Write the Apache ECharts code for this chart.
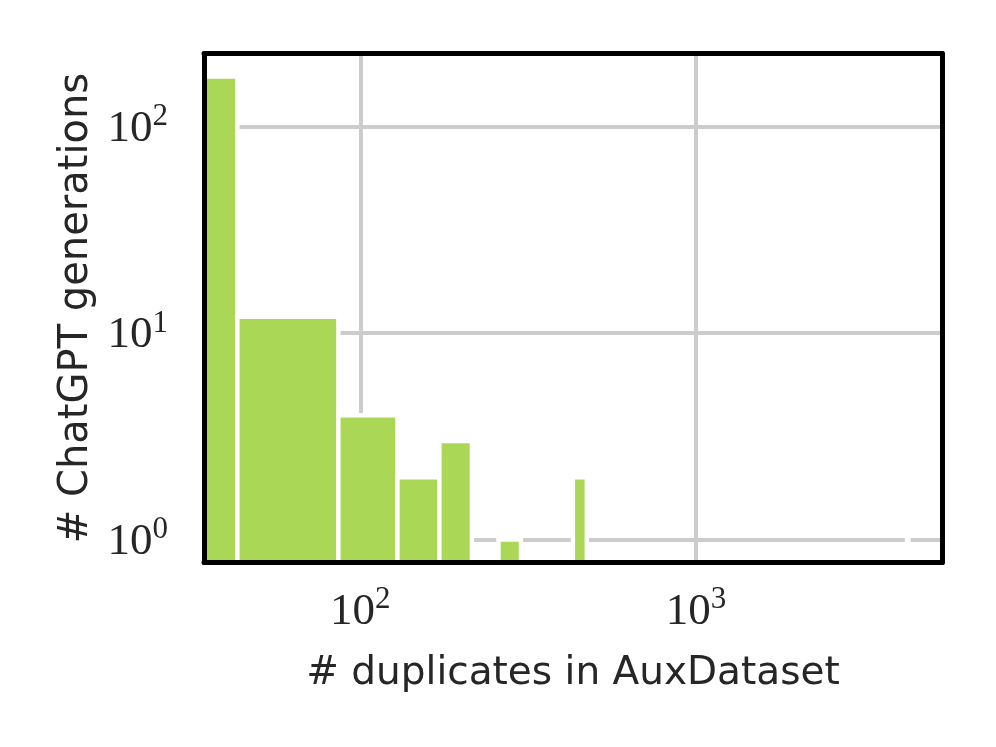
<!DOCTYPE html>
<html>
<head>
<meta charset="utf-8">
<script src="https://cdn.jsdelivr.net/npm/echarts@6/dist/echarts.min.js"></script>
<style>
  html, body { margin: 0; padding: 0; background: #fff; }
  #chart { width: 996px; height: 747px; }
</style>
</head>
<body>
<div id="chart"></div>
<script>
// histogram bins (linear width 43, drawn on log axes)
var binLeft = [0, 43, 86, 129, 172, 258, 430, 4257];
var binRight = [43, 86, 129, 172, 215, 301, 473, 4300];
var counts = [175, 12, 4, 2, 3, 1, 2, 1];

var xMin = 34.2, xMax = 5413;
var yMin = 0.773, yMax = 226.6;

var barColor = '#aad856';
var textColor = '#262626';

var data = binLeft.map(function (l, i) {
  return [l, binRight[i], counts[i]];
});

function powLabel(value) {
  var e = Math.log(value) / Math.LN10;
  var r = Math.round(e);
  if (Math.abs(e - r) > 1e-6) return '';
  return '{b|10}{s|' + r + '}';
}

var labelRich = {
  b: { fontFamily: 'Liberation Serif', fontSize: 45, lineHeight: 50, verticalAlign: 'bottom', color: textColor },
  s: { fontFamily: 'Liberation Serif', fontSize: 31, lineHeight: 32, verticalAlign: 'top', color: textColor }
};

var frame = { show: true, lineStyle: { color: '#000', width: 5 } };

var chart = echarts.init(document.getElementById('chart'));
chart.setOption({
  backgroundColor: '#fff',
  animation: false,
  grid: { left: 204, top: 53.5, right: 54, bottom: 184.5 },
  xAxis: [
    {
      type: 'log', min: xMin, max: xMax, position: 'bottom',
      axisLine: { show: false }, axisTick: { show: false },
      splitLine: { show: true, lineStyle: { color: '#cccccc', width: 4 } },
      axisLabel: { formatter: powLabel, rich: labelRich, margin: 22, showMinLabel: false, showMaxLabel: false },
      name: '# duplicates in AuxDataset', nameLocation: 'middle', nameGap: 92,
      nameTextStyle: { fontFamily: 'DejaVu Sans', fontSize: 39, color: textColor }
    },
    { type: 'log', min: xMin, max: xMax, position: 'bottom', z: 10, axisLine: frame,
      axisTick: { show: false }, axisLabel: { show: false }, splitLine: { show: false } },
    { type: 'log', min: xMin, max: xMax, position: 'top', z: 10, axisLine: frame,
      axisTick: { show: false }, axisLabel: { show: false }, splitLine: { show: false } }
  ],
  yAxis: [
    {
      type: 'log', min: yMin, max: yMax, position: 'left',
      axisLine: { show: false }, axisTick: { show: false },
      splitLine: { show: true, lineStyle: { color: '#cccccc', width: 4 } },
      axisLabel: { formatter: powLabel, rich: labelRich, margin: 36, showMinLabel: false, showMaxLabel: false },
      name: '# ChatGPT generations', nameLocation: 'middle', nameGap: 106, nameRotate: 90,
      nameTextStyle: { fontFamily: 'DejaVu Sans', fontSize: 40, color: textColor }
    },
    { type: 'log', min: yMin, max: yMax, position: 'left', z: 10, axisLine: frame,
      axisTick: { show: false }, axisLabel: { show: false }, splitLine: { show: false } },
    { type: 'log', min: yMin, max: yMax, position: 'right', z: 10, axisLine: frame,
      axisTick: { show: false }, axisLabel: { show: false }, splitLine: { show: false } }
  ],
  series: [{
    type: 'custom',
    xAxisIndex: 0,
    yAxisIndex: 0,
    clip: true,
    data: data,
    renderItem: function (params, api) {
      var x0 = Math.max(api.value(0), xMin);
      var p0 = api.coord([x0, api.value(2)]);
      var p1 = api.coord([api.value(1), yMin]);
      return {
        type: 'rect',
        shape: { x: p0[0], y: p0[1], width: p1[0] - p0[0], height: p1[1] - p0[1] },
        style: { fill: barColor, stroke: '#fff', lineWidth: 4.4 }
      };
    }
  }]
});
</script>
</body>
</html>
